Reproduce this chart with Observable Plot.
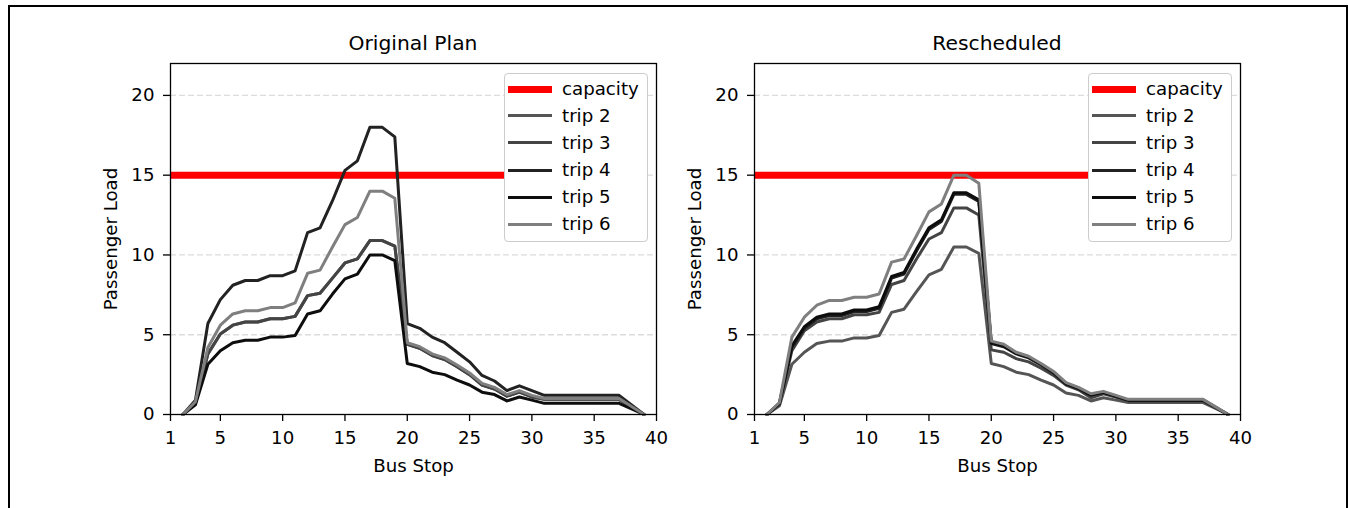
<!DOCTYPE html>
<html><head><meta charset="utf-8">
<script src="https://cdn.jsdelivr.net/npm/d3@7"></script>
<script src="https://cdn.jsdelivr.net/npm/@observablehq/plot@0.6"></script>
<style>
body{margin:0;background:#fff;font-family:"DejaVu Sans",sans-serif;}
#wrap{position:relative;width:1348px;height:508px;overflow:hidden;background:#fff;}
#border{position:absolute;left:8px;top:5px;width:1340px;height:600px;border:2px solid #000;box-sizing:border-box;}
.panel{position:absolute;top:0;}
.title{position:absolute;top:33px;width:300px;font-size:20.3px;line-height:20px;text-align:center;color:#000;white-space:nowrap;}
.legend{position:absolute;top:73px;width:144px;height:169px;background:#fff;border:1.3px solid #cccccc;border-radius:4px;box-sizing:border-box;}
.lg-h{position:absolute;left:3px;width:44px;}
.lg-t{position:absolute;left:57px;height:20px;line-height:20px;font-size:18.2px;color:#000;white-space:nowrap;}
</style>
</head><body>
<div id="wrap">
  <div id="border"></div>
</div>
<script>
// ---- data ----
const stops = [2,3,4,5,6,7,8,9,10,11,12,13,14,15,16,17,18,19,20,21,22,23,24,25,26,27,28,29,30,31,32,33,34,35,36,37,38,39];
const xTicks = [1,5,10,15,20,25,30,35,40];
const yTicks = [0,5,10,15,20];
const capacity = 15;
const capacityStops = [1, 30];
const trips = ["trip 2","trip 3","trip 4","trip 5","trip 6"];
const tripColors = ["#555555","#444444","#222222","#0d0d0d","#7f7f7f"];

// Original Plan
const origTrip2 = [0,0.7,3.8,5.05,5.6,5.8,5.8,6.0,6.0,6.15,7.45,7.6,8.55,9.5,9.75,10.9,10.9,10.55,4.4,4.15,3.7,3.45,3.0,2.5,1.85,1.6,1.15,1.4,1.1,0.95,0.95,0.95,0.95,0.95,0.95,0.95,0.48,0];
const origTrip3 = [0,0.7,3.8,5.05,5.6,5.8,5.8,6.0,6.0,6.15,7.45,7.6,8.55,9.5,9.75,10.9,10.9,10.55,4.4,4.15,3.7,3.45,3.0,2.5,1.85,1.6,1.15,1.4,1.1,0.95,0.95,0.95,0.95,0.95,0.95,0.95,0.48,0];
const origTrip4 = [0,0.9,5.7,7.2,8.1,8.4,8.4,8.7,8.7,9.0,11.4,11.7,13.4,15.3,15.9,18.0,18.0,17.4,5.7,5.4,4.85,4.5,3.9,3.3,2.45,2.1,1.5,1.8,1.5,1.2,1.2,1.2,1.2,1.2,1.2,1.2,0.6,0];
const origTrip5 = [0,0.6,3.15,4.0,4.5,4.65,4.65,4.85,4.85,4.95,6.3,6.5,7.55,8.5,8.8,10.0,10.0,9.65,3.2,3.0,2.65,2.5,2.15,1.85,1.4,1.25,0.85,1.1,0.9,0.7,0.7,0.7,0.7,0.7,0.7,0.7,0.35,0];
const origTrip6 = [0,0.8,4.2,5.6,6.3,6.5,6.5,6.7,6.7,7.0,8.85,9.05,10.5,11.9,12.35,14.0,14.0,13.55,4.5,4.25,3.8,3.55,3.1,2.6,1.95,1.7,1.25,1.5,1.2,1.0,1.0,1.0,1.0,1.0,1.0,1.0,0.5,0];

// Rescheduled
const resTrip2 = [0,0.55,3.15,3.9,4.45,4.6,4.6,4.8,4.8,4.95,6.4,6.6,7.7,8.75,9.1,10.5,10.5,10.1,3.2,3.0,2.65,2.5,2.15,1.85,1.35,1.2,0.85,1.05,0.9,0.75,0.75,0.75,0.75,0.75,0.75,0.75,0.38,0];
const resTrip3 = [0,0.65,4.0,5.25,5.8,6.0,6.0,6.25,6.25,6.4,8.15,8.4,9.75,11.0,11.4,12.95,12.95,12.5,4.05,3.9,3.5,3.3,2.9,2.45,1.85,1.55,1.05,1.3,1.1,0.85,0.85,0.85,0.85,0.85,0.85,0.85,0.42,0];
const resTrip4 = [0,0.7,4.2,5.4,6.0,6.2,6.2,6.45,6.45,6.65,8.55,8.8,10.25,11.6,12.1,13.8,13.8,13.35,4.45,4.25,3.8,3.55,3.1,2.6,1.9,1.6,1.2,1.38,1.12,0.9,0.9,0.9,0.9,0.9,0.9,0.9,0.45,0];
const resTrip5 = [0,0.7,4.3,5.5,6.1,6.3,6.3,6.55,6.55,6.75,8.65,8.9,10.35,11.7,12.2,13.9,13.9,13.45,4.5,4.3,3.85,3.6,3.15,2.65,1.95,1.65,1.25,1.4,1.15,0.9,0.9,0.9,0.9,0.9,0.9,0.9,0.45,0];
const resTrip6 = [0,0.75,4.85,6.1,6.85,7.15,7.15,7.35,7.35,7.55,9.55,9.75,11.2,12.7,13.2,15.0,15.0,14.5,4.6,4.4,3.9,3.65,3.2,2.7,2.0,1.7,1.3,1.45,1.2,0.95,0.95,0.95,0.95,0.95,0.95,0.95,0.48,0];

const origSeries = [origTrip2, origTrip3, origTrip4, origTrip5, origTrip6];
const resSeries = [resTrip2, resTrip3, resTrip4, resTrip5, resTrip6];

function panel(series, mLeft, mRight) {
  const lines = series.map((arr, i) => {
    const rows = stops.map((s, j) => ({stop: s, load: arr[j], trip: trips[i]}));
    return Plot.line(rows, {x: "stop", y: "load", stroke: tripColors[i], strokeWidth: 3, strokeLinejoin: "round"});
  });
  const capRows = capacityStops.map(s => ({stop: s, load: capacity}));
  return Plot.plot({
    width: 674, height: 508,
    marginLeft: mLeft, marginRight: mRight, marginTop: 63, marginBottom: 94,
    x: {domain: [1, 40]},
    y: {domain: [0, 22]},
    style: {fontFamily: "DejaVu Sans", fontSize: "18.2px", color: "#000", background: "transparent", overflow: "visible"},
    marks: [
      Plot.gridY(yTicks.filter(v => v > 0), {stroke: "#dcdcdc", strokeOpacity: 1, strokeWidth: 1.3, strokeDasharray: "6,3"}),
      Plot.line(capRows, {x: "stop", y: "load", stroke: "#ff0000", strokeWidth: 7, strokeLinecap: "butt"}),
      ...lines,
      Plot.frame({stroke: "#000", strokeWidth: 1.3}),
      Plot.axisX(xTicks, {tickSize: 7, tickPadding: 10, strokeWidth: 1.3, label: "Bus Stop", labelAnchor: "center", labelOffset: 57, labelArrow: "none"}),
      Plot.axisY(yTicks, {tickSize: 7, tickPadding: 9, strokeWidth: 1.3, label: "Passenger Load", labelAnchor: "center", labelOffset: 66, labelArrow: "none"})
    ]
  });
}

const wrap = document.getElementById("wrap");
function place(el, left) {
  const d = document.createElement("div");
  d.className = "panel";
  d.style.left = left + "px";
  d.appendChild(el);
  wrap.appendChild(d);
}
place(panel(origSeries, 170, 18), 0);
place(panel(resSeries, 80, 108), 674);

function title(text, cx) {
  const t = document.createElement("div");
  t.className = "title";
  t.textContent = text;
  t.style.left = (cx - 150) + "px";
  wrap.appendChild(t);
}
title("Original Plan", 413);
title("Rescheduled", 997);

const legendLabels = ["capacity", ...trips];
const legendColors = ["#ff0000", ...tripColors];
const legendWidths = [7, 3, 3, 3, 3, 3];
const rowCenters = [15, 41.5, 68.5, 96, 123, 150];
function legend(left) {
  const box = document.createElement("div");
  box.className = "legend";
  box.style.left = left + "px";
  legendLabels.forEach((lab, i) => {
    const h = document.createElement("div");
    h.className = "lg-h";
    h.style.top = (rowCenters[i] - legendWidths[i] / 2) + "px";
    h.style.height = legendWidths[i] + "px";
    h.style.background = legendColors[i];
    box.appendChild(h);
    const t = document.createElement("div");
    t.className = "lg-t";
    t.style.top = (rowCenters[i] - 10) + "px";
    t.textContent = lab;
    box.appendChild(t);
  });
  wrap.appendChild(box);
}
legend(504);
legend(1088);
wrap.appendChild(document.getElementById("border"));
</script>
</body></html>
